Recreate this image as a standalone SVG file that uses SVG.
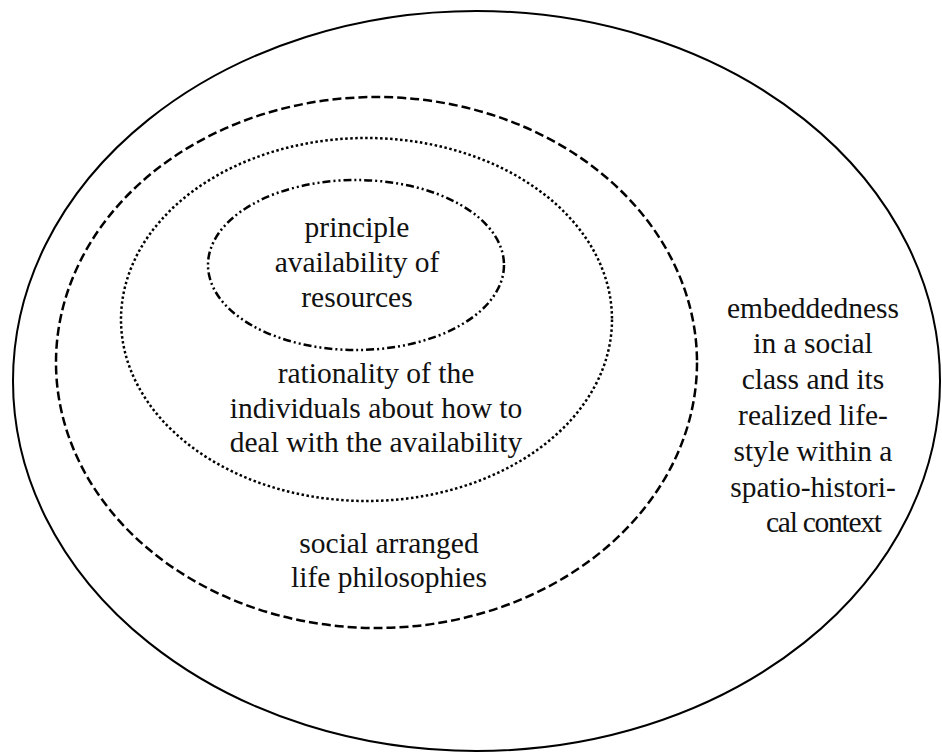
<svg xmlns="http://www.w3.org/2000/svg" width="942" height="755" viewBox="0 0 942 755">
<style>
.e{fill:none;stroke:#000}
.t{font-family:"Liberation Serif","Times New Roman",serif;font-size:29.5px;fill:#111;text-anchor:middle}
</style>
<rect width="942" height="755" fill="#fff"/>
<g id="outer">
<ellipse class="e" cx="476.5" cy="381" rx="463.5" ry="370" stroke-width="2"/>
<text class="t"><tspan x="813" y="318">embeddedness</tspan><tspan x="813" y="353">in a social</tspan><tspan x="813" y="389">class and its</tspan><tspan x="813" y="425">realized life-</tspan><tspan x="813" y="461">style within a</tspan><tspan x="813" y="497">spatio-histori-</tspan></text>
<text class="t" x="824" y="532" textLength="116" lengthAdjust="spacing">cal context</text>
</g>
<g id="social">
<ellipse class="e" cx="376.5" cy="362.5" rx="320.5" ry="265.5" stroke-width="2.5" stroke-dasharray="9 4"/>
<text class="t"><tspan x="389" y="553">social arranged</tspan><tspan x="389" y="587">life philosophies</tspan></text>
</g>
<g id="rationality">
<ellipse class="e" cx="366.5" cy="319.5" rx="245.5" ry="181.5" stroke-width="2.5" stroke-dasharray="2.5 2.5"/>
<text class="t"><tspan x="376" y="383">rationality of the</tspan><tspan x="376" y="418">individuals about how to</tspan><tspan x="376" y="452">deal with the availability</tspan></text>
</g>
<g id="resources">
<ellipse class="e" cx="356" cy="265" rx="148" ry="85" stroke-width="2.5" stroke-dasharray="8 3 2 3 2 3"/>
<text class="t"><tspan x="357" y="237">principle</tspan><tspan x="357" y="272">availability of</tspan><tspan x="357" y="307">resources</tspan></text>
</g>
<g id="connectors"/>
</svg>
